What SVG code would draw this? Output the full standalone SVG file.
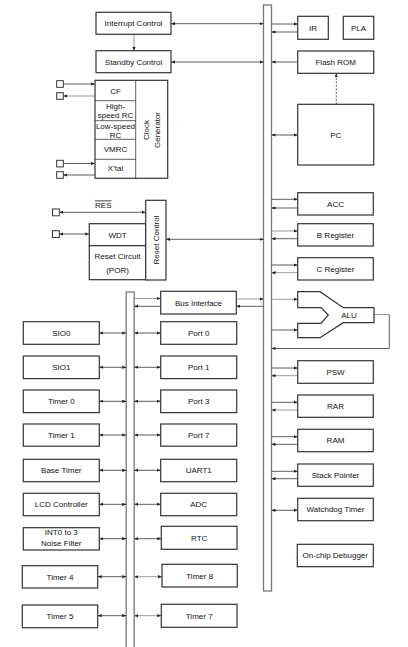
<svg xmlns="http://www.w3.org/2000/svg" width="408" height="647" viewBox="0 0 408 647">
<defs>
<style>
.b{fill:#fff;stroke:#333;stroke-width:1.2}
.bus{fill:#fff;stroke:#777;stroke-width:1.3}
.t{font-family:"Liberation Sans",Arial,sans-serif;font-size:8px;fill:#111;text-anchor:middle}
.l{stroke:#333;stroke-width:0.8;fill:none}
.g{stroke:#999;stroke-width:1;fill:none}
.sq{fill:#fff;stroke:#333;stroke-width:1}
.e{marker-end:url(#ae)}
.s{marker-start:url(#as)}
</style>
<marker id="ae" markerWidth="4" markerHeight="4" refX="4" refY="2" orient="auto" markerUnits="userSpaceOnUse"><path d="M0,0.4 L4,2 L0,3.6z" fill="#222"/></marker>
<marker id="as" markerWidth="4" markerHeight="4" refX="0" refY="2" orient="auto" markerUnits="userSpaceOnUse"><path d="M4,0.4 L0,2 L4,3.6z" fill="#222"/></marker>
</defs>
<rect width="408" height="647" fill="#fff"/>

<g id="buses">
<rect id="main-bus" class="bus" x="263.5" y="5" width="8" height="586"/>
<rect id="peripheral-bus" class="bus" x="126.2" y="292" width="8" height="360"/>
</g>

<g id="connectors">
<line class="l s e" x1="171" y1="23.7" x2="263.5" y2="23.7"/>
<line class="g e" x1="134" y1="34.3" x2="134" y2="51"/>
<line class="l s e" x1="171" y1="62" x2="263.5" y2="62"/>
<line class="l e" x1="63.3" y1="84" x2="95" y2="84"/>
<line class="g e" x1="95" y1="96" x2="63.3" y2="96"/>
<line class="l e" x1="63.3" y1="163.5" x2="95" y2="163.5"/>
<line class="l e" x1="95" y1="175" x2="63.3" y2="175"/>
<line class="l s e" x1="59.3" y1="212.3" x2="145.7" y2="212.3"/>
<line class="l s e" x1="59.3" y1="234" x2="89.3" y2="234"/>
<line class="l s e" x1="166" y1="239.3" x2="263.5" y2="239.3"/>
<line class="g e" x1="134.2" y1="298.5" x2="160.7" y2="298.5"/>
<line class="l e" x1="160.7" y1="306.3" x2="134.2" y2="306.3"/>
<line class="g e" x1="236.3" y1="299" x2="263.5" y2="299"/>
<line class="l e" x1="263.5" y1="306.3" x2="236.3" y2="306.3"/>
<line class="l e" x1="271.5" y1="24" x2="297.7" y2="24"/>
<line class="l e" x1="297.7" y1="32" x2="271.5" y2="32"/>
<line class="l e" x1="297.7" y1="62" x2="271.5" y2="62"/>
<line class="l s e" x1="271.5" y1="135" x2="297.7" y2="135"/>
<line class="l e" x1="336.3" y1="104.3" x2="336.3" y2="73.3" stroke-dasharray="2,1.5"/>
<line class="l e" x1="271.5" y1="199.3" x2="297.7" y2="199.3"/>
<line class="l e" x1="297.7" y1="208" x2="271.5" y2="208"/>
<line class="g e" x1="271.5" y1="231" x2="297.7" y2="231"/>
<line class="l e" x1="297.7" y1="238.7" x2="271.5" y2="238.7"/>
<line class="l e" x1="271.5" y1="265" x2="297.7" y2="265"/>
<line class="g e" x1="297.7" y1="272.7" x2="271.5" y2="272.7"/>
<line class="g e" x1="271.5" y1="299.3" x2="297.7" y2="299.3"/>
<line class="l e" x1="271.5" y1="330" x2="297.7" y2="330"/>
<polyline class="g" points="374,314.5 389.3,314.5"/>
<polyline class="l e" points="389.3,314.5 389.3,348.5 271.5,348.5"/>
<line class="l e" x1="271.5" y1="368" x2="297.7" y2="368"/>
<line class="g e" x1="297.7" y1="375.7" x2="271.5" y2="375.7"/>
<line class="l e" x1="271.5" y1="402.3" x2="297.7" y2="402.3"/>
<line class="g e" x1="297.7" y1="410" x2="271.5" y2="410"/>
<line class="l e" x1="271.5" y1="436.7" x2="297.7" y2="436.7"/>
<line class="l e" x1="297.7" y1="444.3" x2="271.5" y2="444.3"/>
<line class="l e" x1="271.5" y1="471.3" x2="297.7" y2="471.3"/>
<line class="l e" x1="297.7" y1="478.7" x2="271.5" y2="478.7"/>
<line class="l s e" x1="271.5" y1="510.3" x2="297.7" y2="510.3"/>
<line class="l s e" x1="99.3" y1="333" x2="126.2" y2="333"/>
<line class="l s e" x1="134.2" y1="333" x2="160.7" y2="333"/>
<line class="l s e" x1="99.3" y1="367.3" x2="126.2" y2="367.3"/>
<line class="l s e" x1="134.2" y1="367.3" x2="160.7" y2="367.3"/>
<line class="l s e" x1="99.3" y1="401.3" x2="126.2" y2="401.3"/>
<line class="l s e" x1="134.2" y1="401.3" x2="160.7" y2="401.3"/>
<line class="l s e" x1="99.3" y1="435" x2="126.2" y2="435"/>
<line class="l s e" x1="134.2" y1="435" x2="160.7" y2="435"/>
<line class="l s e" x1="99.3" y1="470.3" x2="126.2" y2="470.3"/>
<line class="l s e" x1="134.2" y1="470.3" x2="160.7" y2="470.3"/>
<line class="l s e" x1="99.3" y1="504.3" x2="126.2" y2="504.3"/>
<line class="l s e" x1="134.2" y1="504.3" x2="160.7" y2="504.3"/>
<line class="l s e" x1="99.3" y1="538.7" x2="126.2" y2="538.7"/>
<line class="l s e" x1="134.2" y1="538.7" x2="161.3" y2="538.7"/>
<line class="l s e" x1="97.7" y1="576.7" x2="126.2" y2="576.7"/>
<line class="g s e" x1="134.2" y1="576.7" x2="162" y2="576.7"/>
<line class="l s e" x1="97.7" y1="615.7" x2="126.2" y2="615.7"/>
<line class="g s e" x1="134.2" y1="615.7" x2="161.3" y2="615.7"/>
</g>

<g id="interrupt-control"><rect class="b" x="96" y="12.3" width="75" height="22"/><text class="t" x="133.5" y="26.2">Interrupt Control</text></g>
<g id="standby-control"><rect class="b" x="96" y="50.7" width="75" height="22"/><text class="t" x="133.5" y="64.6">Standby Control</text></g>

<g id="clock-generator">
<rect class="b" x="95" y="80.3" width="72.7" height="98"/>
<line class="l" x1="135.7" y1="80.3" x2="135.7" y2="178.3" stroke-width="1.2"/>
<line class="l" x1="95" y1="100.7" x2="135.7" y2="100.7" stroke-width="1.8"/>
<line class="l" x1="95" y1="120.7" x2="135.7" y2="120.7" stroke-width="1.5"/>
<line class="l" x1="95" y1="139.3" x2="135.7" y2="139.3" stroke-width="1.2"/>
<line class="l" x1="95" y1="159.3" x2="135.7" y2="159.3" stroke-width="1.2"/>
<text class="t" x="115.5" y="93.5">CF</text>
<text class="t" x="115.5" y="109">High-</text>
<text class="t" x="115.5" y="118.3">speed RC</text>
<text class="t" x="115.5" y="128.8">Low-speed</text>
<text class="t" x="115.5" y="137.8">RC</text>
<text class="t" x="115.5" y="152">VMRC</text>
<text class="t" x="115.5" y="171.3">X'tal</text>
<text class="t" transform="translate(146,130) rotate(-90)" y="3">Clock</text>
<text class="t" transform="translate(156.7,130) rotate(-90)" y="3">Generator</text>
</g>
<g id="clock-pins">
<rect class="sq" x="56.7" y="80.7" width="6.6" height="6.6"/>
<rect class="sq" x="56.7" y="92.7" width="6.6" height="6.6"/>
<rect class="sq" x="56.7" y="160.3" width="6.6" height="6.6"/>
<rect class="sq" x="56.7" y="171.7" width="6.6" height="6.6"/>
</g>

<g id="reset-block">
<rect class="sq" x="52.5" y="209" width="6.8" height="6.8"/>
<text class="t" x="103.3" y="207.5" style="text-decoration:overline">RES</text>
<rect class="sq" x="52.5" y="230.7" width="6.8" height="6.8"/>
<rect class="b" x="89.3" y="223.7" width="56.4" height="22"/>
<text class="t" x="117.5" y="237.5">WDT</text>
<rect class="b" x="89.3" y="245.7" width="56.4" height="34"/>
<text class="t" x="117.5" y="258.8">Reset Circuit</text>
<text class="t" x="117.5" y="273.3">(POR)</text>
<rect class="b" x="145.7" y="200.3" width="20.3" height="79.7"/>
<text class="t" transform="translate(155.8,240) rotate(-90)" y="3">Reset Control</text>
</g>

<g id="bus-interface"><rect class="b" x="160.7" y="291.3" width="75.6" height="22.7"/><text class="t" x="198.5" y="305.5">Bus Interface</text></g>

<g id="sio0"><rect class="b" x="23.3" y="321.7" width="76" height="22.6"/><text class="t" x="61.3" y="335.8">SIO0</text></g>
<g id="sio1"><rect class="b" x="23.3" y="356" width="76" height="22.6"/><text class="t" x="61.3" y="370.1">SIO1</text></g>
<g id="timer0"><rect class="b" x="23.3" y="390" width="76" height="22.6"/><text class="t" x="61.3" y="404.1">Timer 0</text></g>
<g id="timer1"><rect class="b" x="23.3" y="424" width="76" height="22.2"/><text class="t" x="61.3" y="437.9">Timer 1</text></g>
<g id="base-timer"><rect class="b" x="23.3" y="459.3" width="76" height="22.4"/><text class="t" x="61.3" y="473.3">Base Timer</text></g>
<g id="lcd-controller"><rect class="b" x="23.3" y="493.3" width="76" height="22.4"/><text class="t" x="61.3" y="507.3">LCD Controller</text></g>
<g id="int-noise-filter"><rect class="b" x="23.3" y="527.7" width="76" height="22.3"/><text class="t" x="61.3" y="535.2">INT0 to 3</text><text class="t" x="61.3" y="545.7">Noise Filter</text></g>
<g id="timer4"><rect class="b" x="22.3" y="565.7" width="75.4" height="22.3"/><text class="t" x="60" y="579.6">Timer 4</text></g>
<g id="timer5"><rect class="b" x="22.3" y="605" width="75.4" height="22.7"/><text class="t" x="60" y="619">Timer 5</text></g>

<g id="port0"><rect class="b" x="160.7" y="321.7" width="76" height="22.6"/><text class="t" x="198.7" y="335.8">Port 0</text></g>
<g id="port1"><rect class="b" x="160.7" y="356" width="76" height="22.6"/><text class="t" x="198.7" y="370.1">Port 1</text></g>
<g id="port3"><rect class="b" x="160.7" y="390" width="76" height="22.6"/><text class="t" x="198.7" y="404.1">Port 3</text></g>
<g id="port7"><rect class="b" x="160.7" y="424" width="76" height="22.2"/><text class="t" x="198.7" y="437.9">Port 7</text></g>
<g id="uart1"><rect class="b" x="160.7" y="459.3" width="76" height="22.4"/><text class="t" x="198.7" y="473.3">UART1</text></g>
<g id="adc"><rect class="b" x="160.7" y="493.3" width="76" height="22.4"/><text class="t" x="198.7" y="507.3">ADC</text></g>
<g id="rtc"><rect class="b" x="161.3" y="526.3" width="75.7" height="23"/><text class="t" x="199.2" y="540.6">RTC</text></g>
<g id="timer8"><rect class="b" x="162" y="564.3" width="75.3" height="22.7"/><text class="t" x="199.7" y="578.5">Timer 8</text></g>
<g id="timer7"><rect class="b" x="161.3" y="604.3" width="75.7" height="23"/><text class="t" x="199.2" y="618.6">Timer 7</text></g>

<g id="ir"><rect class="b" x="297.7" y="16.3" width="30.6" height="23"/><text class="t" x="313" y="30.6">IR</text></g>
<g id="pla"><rect class="b" x="343.3" y="16.3" width="30.4" height="23"/><text class="t" x="358.5" y="30.6">PLA</text></g>
<g id="flash-rom"><rect class="b" x="297.7" y="51" width="76" height="22.3"/><text class="t" x="335.7" y="65">Flash ROM</text></g>
<g id="pc"><rect class="b" x="297.7" y="104.3" width="76" height="60.7"/><text class="t" x="335.7" y="137.7">PC</text></g>
<g id="acc"><rect class="b" x="297.7" y="192.7" width="75.6" height="22.3"/><text class="t" x="335.5" y="206.6">ACC</text></g>
<g id="b-register"><rect class="b" x="297.7" y="223.7" width="75.6" height="22.3"/><text class="t" x="335.5" y="237.6">B Register</text></g>
<g id="c-register"><rect class="b" x="297.7" y="257.7" width="75.6" height="22.3"/><text class="t" x="335.5" y="271.6">C Register</text></g>
<g id="alu"><polygon class="b" points="297.7,291.7 320,291.7 343.3,307.7 374,307.7 374,322.7 343.3,322.7 320,337.7 297.7,337.7 297.7,323.3 321,323.3 328.3,315 321,307.7 297.7,307.7"/><text class="t" x="349" y="317.8">ALU</text></g>
<g id="psw"><rect class="b" x="297.7" y="360.7" width="75.6" height="22.6"/><text class="t" x="335.5" y="374.8">PSW</text></g>
<g id="rar"><rect class="b" x="297.7" y="395" width="75.6" height="22.3"/><text class="t" x="335.5" y="408.9">RAR</text></g>
<g id="ram"><rect class="b" x="297.7" y="429.3" width="75.6" height="22.4"/><text class="t" x="335.5" y="443.3">RAM</text></g>
<g id="stack-pointer"><rect class="b" x="297.7" y="464" width="75.6" height="22.3"/><text class="t" x="335.5" y="478">Stack Pointer</text></g>
<g id="watchdog-timer"><rect class="b" x="297.7" y="498.3" width="75.6" height="22.4"/><text class="t" x="335.5" y="512.3">Watchdog Timer</text></g>
<g id="on-chip-debugger"><rect class="b" x="297.3" y="544.3" width="76" height="22.4"/><text class="t" x="335.3" y="558.3">On-chip Debugger</text></g>
</svg>
